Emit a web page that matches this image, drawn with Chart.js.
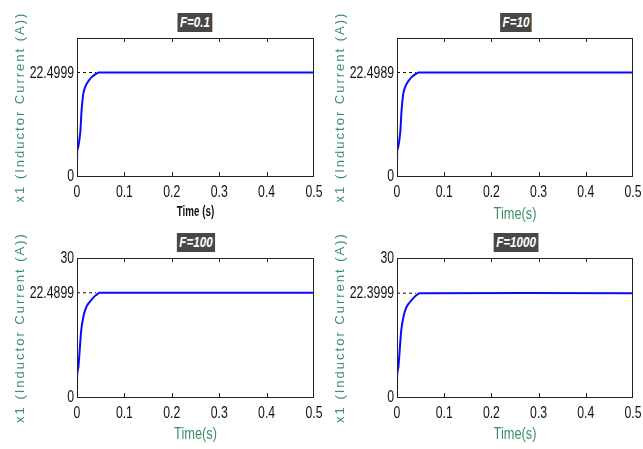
<!DOCTYPE html>
<html>
<head>
<meta charset="utf-8">
<script src="https://cdn.jsdelivr.net/npm/chart.js@4.4.0/dist/chart.umd.min.js"></script>
<style>
  body { margin: 0; background: #fff; }
  #wrap { position: relative; width: 643px; height: 449px; overflow: hidden; }
  .panel { position: absolute; }
  .ttl {
    position: absolute; background: #474747; color: #fff;
    font: italic bold 14px 'Liberation Sans', sans-serif;
    padding: 1px 3px; line-height: 17px; white-space: nowrap;
    transform: translateX(-50%) scaleX(0.83);
  }
</style>
</head>
<body>
<div id="wrap"></div>
<script>
// values
const panelTitles = ['F=0.1', 'F=10', 'F=100', 'F=1000'];
const steadyValues = [22.4999, 22.4989, 22.4899, 22.3999];
const xTickValues = [0, 0.1, 0.2, 0.3, 0.4, 0.5];
const yTicksTop = [0, 22.4999];
const yTicksTopRight = [0, 22.4989];
const yTicksBottomLeft = [0, 22.4899, 30];
const yTicksBottomRight = [0, 22.3999, 30];

const timeTop = [0, 0.0005, 0.003, 0.007, 0.0095, 0.0135, 0.019, 0.026, 0.032, 0.037, 0.042, 0.046, 0.5];
const currentF01 = [0, 5.6, 6.5, 9.6, 14, 18, 19.8, 20.9, 21.6, 22.0, 22.3, 22.4999, 22.4999];
const currentF10 = [0, 5.6, 6.5, 9.6, 14, 18, 19.8, 20.9, 21.6, 22.0, 22.3, 22.4989, 22.4989];

const timeBottom = [0, 0.0005, 0.003, 0.009, 0.014, 0.0195, 0.025, 0.030, 0.035, 0.0405, 0.0475, 0.5];
const currentF100 = [0, 5.1, 6.5, 14.5, 17.6, 19.4, 20.3, 20.9, 21.5, 22.0, 22.4899, 22.4899];
const currentF1000 = [0, 5.1, 6.5, 14.4, 17.5, 19.3, 20.2, 20.8, 21.4, 21.9, 22.3999, 22.3999];

const dashEnd = [0.04, 0.04, 0.04, 0.04];

const green = '#3c9065';

// squeezed text, the original uses a narrow font we don't have
function narrowText(ctx, txt, x, y, font, sx, align, base, color) {
  ctx.save();
  ctx.translate(x, y);
  ctx.scale(sx, 1);
  ctx.font = font;
  ctx.fillStyle = color;
  ctx.textAlign = align;
  ctx.textBaseline = base;
  ctx.fillText(txt, 0, 0);
  ctx.restore();
}

// box, little inward ticks like matlab, tick labels and axis titles
const framePlugin = {
  id: 'frame',
  afterDraw(chart, args, opts) {
    const { ctx, chartArea: a } = chart;
    const xs = chart.scales.x, ys = chart.scales.y;
    ctx.save();
    ctx.strokeStyle = '#222';
    ctx.lineWidth = 1;
    ctx.strokeRect(a.left + 0.5, a.top + 0.5, a.right - a.left - 1, a.bottom - a.top);
    ctx.beginPath();
    xTickValues.slice(1, -1).forEach(v => {
      const px = Math.round(xs.getPixelForValue(v)) + 0.5;
      ctx.moveTo(px, a.bottom); ctx.lineTo(px, a.bottom - 4);
      ctx.moveTo(px, a.top); ctx.lineTo(px, a.top + 4);
    });
    ctx.stroke();
    ctx.restore();

    const tf = "17px 'Liberation Sans', sans-serif";
    xTickValues.forEach(v => {
      narrowText(ctx, String(v), xs.getPixelForValue(v), a.bottom + 16, tf, 0.72, 'center', 'middle', '#111');
    });
    opts.yTicks.forEach(v => {
      narrowText(ctx, String(v), a.left - 3, ys.getPixelForValue(v) + 0.5, tf, 0.72, 'right', 'middle', '#111');
    });
    narrowText(ctx, opts.xTitle, (a.left + a.right) / 2, opts.xTitleY, opts.xTitleFont, opts.xTitleSx, 'center', 'middle', opts.xTitleColor);

    // y axis title
    ctx.save();
    ctx.translate(20, (a.top + a.bottom) / 2);
    ctx.rotate(-Math.PI / 2);
    ctx.fillStyle = green;
    ctx.font = "13px 'Liberation Sans', sans-serif";
    ctx.letterSpacing = '2px';
    ctx.textAlign = 'center';
    ctx.textBaseline = 'middle';
    ctx.fillText('x1 (Inductor Current (A))', 0, 0);
    ctx.restore();
  }
};

function makePanel(p) {
  const div = document.createElement('div');
  div.className = 'panel';
  div.style.left = p.left + 'px';
  div.style.top = p.top + 'px';
  const cv = document.createElement('canvas');
  cv.width = p.w; cv.height = p.h;
  div.appendChild(cv);
  document.getElementById('wrap').appendChild(div);

  const t = document.createElement('div');
  t.className = 'ttl';
  t.textContent = p.title;
  t.style.left = p.titleX + 'px';
  t.style.top = p.titleY + 'px';
  document.getElementById('wrap').appendChild(t);

  new Chart(cv, {
    type: 'line',
    data: {
      datasets: [
        {
          data: [{ x: 0, y: p.steady }, { x: p.dashEnd, y: p.steady }],
          borderColor: '#111', borderWidth: 1, borderDash: [3, 3], pointRadius: 0
        },
        {
          data: p.time.map((tt, i) => ({ x: tt, y: p.values[i] })),
          borderColor: '#0a0aff', borderWidth: 2, pointRadius: 0, tension: 0.2
        }
      ]
    },
    options: {
      responsive: false, animation: false, devicePixelRatio: 1,
      layout: { padding: { top: p.padTop, right: p.padRight, left: 0, bottom: 0 } },
      plugins: {
        legend: { display: false }, tooltip: { enabled: false },
        frame: { yTicks: p.yTicks, xTitle: p.xTitle, xTitleY: p.xTitleY, xTitleFont: p.xTitleFont, xTitleSx: p.xTitleSx, xTitleColor: p.xTitleColor }
      },
      scales: {
        x: {
          type: 'linear', min: 0, max: 0.5,
          grid: { display: false, drawTicks: false },
          border: { display: false },
          ticks: { display: false },
          afterFit: s => { s.height = p.xH; }
        },
        y: {
          min: 0, max: 30,
          grid: { display: false, drawTicks: false },
          border: { display: false },
          ticks: { display: false },
          afterFit: s => { s.width = 77; }
        }
      }
    },
    plugins: [framePlugin]
  });
}

const boldSmall = "bold 14px 'Liberation Sans', sans-serif";
const greenFont = "16px 'Liberation Sans', sans-serif";
makePanel({ left: 0, top: 0, w: 330, h: 225, padTop: 38, padRight: 16, xH: 49,
  title: panelTitles[0], titleX: 195, titleY: 13, steady: steadyValues[0], dashEnd: dashEnd[0],
  time: timeTop, values: currentF01, yTicks: yTicksTop,
  xTitle: 'Time (s)', xTitleColor: '#111', xTitleFont: boldSmall, xTitleSx: 0.7, xTitleY: 212 });
makePanel({ left: 320, top: 0, w: 323, h: 225, padTop: 38, padRight: 10, xH: 49,
  title: panelTitles[1], titleX: 516, titleY: 13, steady: steadyValues[1], dashEnd: dashEnd[1],
  time: timeTop, values: currentF10, yTicks: yTicksTopRight,
  xTitle: 'Time(s)', xTitleColor: green, xTitleFont: greenFont, xTitleSx: 0.8, xTitleY: 215 });
makePanel({ left: 0, top: 225, w: 330, h: 224, padTop: 33, padRight: 16, xH: 52,
  title: panelTitles[2], titleX: 196, titleY: 233, steady: steadyValues[2], dashEnd: dashEnd[2],
  time: timeBottom, values: currentF100, yTicks: yTicksBottomLeft,
  xTitle: 'Time(s)', xTitleColor: green, xTitleFont: greenFont, xTitleSx: 0.8, xTitleY: 210 });
makePanel({ left: 320, top: 225, w: 323, h: 224, padTop: 33, padRight: 10, xH: 52,
  title: panelTitles[3], titleX: 516, titleY: 233, steady: steadyValues[3], dashEnd: dashEnd[3],
  time: timeBottom, values: currentF1000, yTicks: yTicksBottomRight,
  xTitle: 'Time(s)', xTitleColor: green, xTitleFont: greenFont, xTitleSx: 0.8, xTitleY: 210 });
</script>
</body>
</html>
